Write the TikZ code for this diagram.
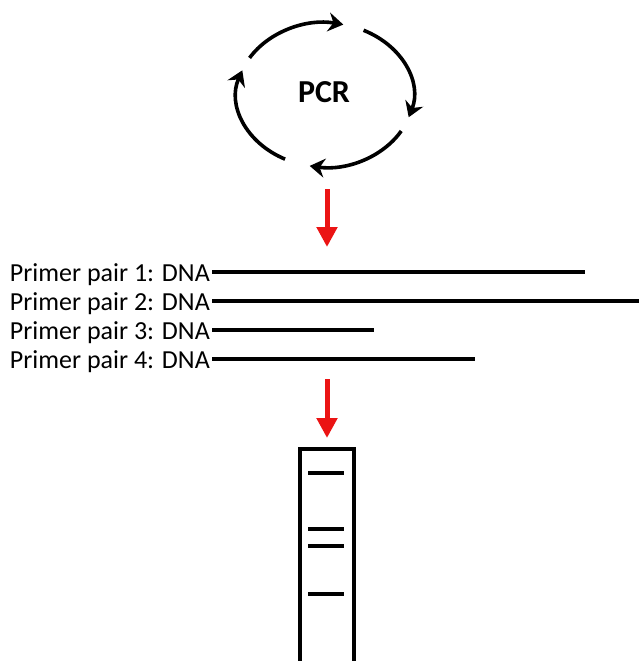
\documentclass[tikz,border=0pt]{standalone}
\usepackage{fontspec}
\setmainfont{Carlito}
\usetikzlibrary{arrows.meta}
\definecolor{arrowred}{RGB}{235,20,20}
\begin{document}
\begin{tikzpicture}[x=1pt,y=-1pt,
  cyc/.style={line width=3.6pt,-{Stealth[length=15pt,width=19pt,inset=5pt]}},
  redarr/.style={draw=arrowred,line width=5pt,-{Triangle[length=20pt,width=20pt]},arrowred},
  dna/.style={line width=3.6pt},
  lbl/.style={anchor=east,font=\fontsize{26}{28}\selectfont,text height=18pt,text depth=0pt,inner xsep=2pt,inner ysep=0pt},
  band/.style={line width=3.4pt},
  gelbox/.style={line width=3.6pt}]
\useasboundingbox (0,0) rectangle (638,661);
% PCR cycle
\coordinate (c) at (325,95);
\node[font=\fontsize{32}{34}\selectfont\bfseries] (pcr) at (324,92) {PCR};
\draw[cyc] (c) ++(-149:88 and 72) arc[start angle=-149,end angle=-78,x radius=88,y radius=72];
\draw[cyc] (c) ++(-64:88 and 72) arc[start angle=-64,end angle=18,x radius=88,y radius=72];
\draw[cyc] (c) ++(30:88 and 72) arc[start angle=30,end angle=100,x radius=88,y radius=72];
\draw[cyc] (c) ++(117:88 and 72) arc[start angle=117,end angle=200,x radius=88,y radius=72];
% red arrow 1
\coordinate (r1a) at (327,189);
\coordinate (r1b) at (327,247);
\draw[redarr] (r1a) -- (r1b);
% DNA lines
\node[lbl] (l1) at (212,272) {Primer pair 1: DNA};
\node[lbl] (l2) at (212,301) {Primer pair 2: DNA};
\node[lbl] (l3) at (212,330) {Primer pair 3: DNA};
\node[lbl] (l4) at (212,359) {Primer pair 4: DNA};
\coordinate (e1) at (585,272);
\coordinate (e2) at (640,301);
\coordinate (e3) at (374,330);
\coordinate (e4) at (475,359);
\draw[dna] (l1.east) -- (e1);
\draw[dna] (l2.east) -- (e2);
\draw[dna] (l3.east) -- (e3);
\draw[dna] (l4.east) -- (e4);
% red arrow 2
\coordinate (r2a) at (327,379);
\coordinate (r2b) at (327,438);
\draw[redarr] (r2a) -- (r2b);
% gel
\coordinate (g1) at (300,664);
\coordinate (g2) at (300,449);
\coordinate (g3) at (354,449);
\coordinate (g4) at (354,664);
\draw[gelbox] (g1) -- (g2) -- (g3) -- (g4);
\coordinate (b1l) at (308,473); \coordinate (b1r) at (344,473);
\coordinate (b2l) at (308,529); \coordinate (b2r) at (344,529);
\coordinate (b3l) at (308,546); \coordinate (b3r) at (344,546);
\coordinate (b4l) at (308,594); \coordinate (b4r) at (344,594);
\draw[band] (b1l) -- (b1r);
\draw[band] (b2l) -- (b2r);
\draw[band] (b3l) -- (b3r);
\draw[band] (b4l) -- (b4r);
\end{tikzpicture}
\end{document}
